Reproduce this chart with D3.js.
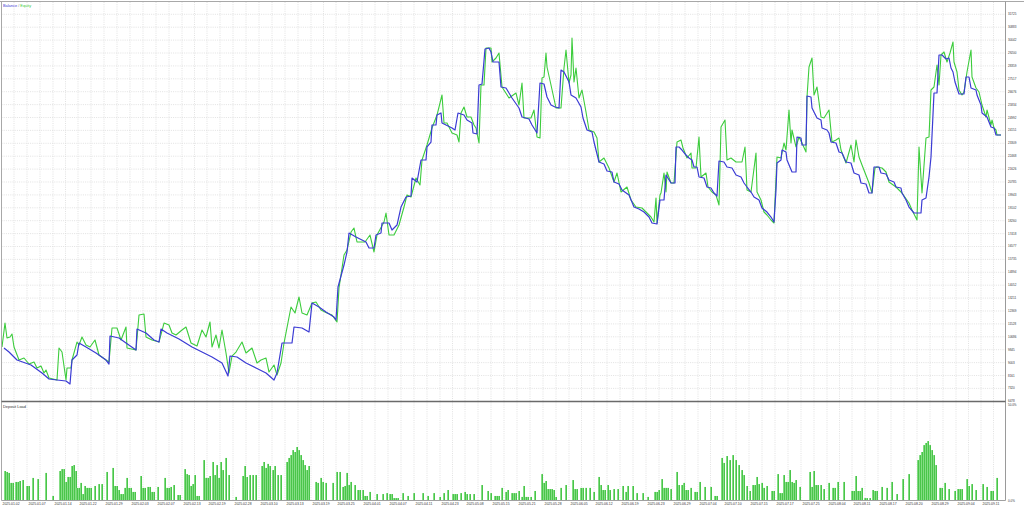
<!DOCTYPE html>
<html><head><meta charset="utf-8">
<script src="https://cdn.jsdelivr.net/npm/d3@7"></script>
<style>html,body{margin:0;padding:0;background:#fff;overflow:hidden} text{font-family:"Liberation Sans","DejaVu Sans",sans-serif}</style>
</head><body>
<svg id="c" width="1024" height="508" xmlns="http://www.w3.org/2000/svg"></svg>
<script>
// ---- data: [deal number, value] ----
const balance = [[4,9954],[9,9693],[17,9171],[31,8845],[42,8323],[49,7932],[57,7867],[66,7802],[70,7606],[72,9171],[77,9497],[79,10280],[86,10019],[96,9628],[106,9171],[109,8910],[110,10737],[119,10606],[126,10280],[136,9824],[137,11194],[146,10933],[154,10476],[159,10345],[161,11194],[167,10933],[179,10541],[192,10019],[202,9693],[212,9367],[222,8975],[228,8128],[230,9432],[237,9367],[246,8975],[256,8649],[266,8323],[274,7867],[277,8323],[282,10280],[292,10280],[294,11325],[302,11259],[309,10998],[312,12886],[319,12629],[326,12303],[334,11977],[336,11781],[338,13934],[344,15369],[347,16218],[349,17457],[356,17196],[366,16870],[369,16478],[374,16478],[376,17327],[381,17457],[382,18110],[389,18110],[392,17653],[397,17979],[401,19153],[406,19806],[411,19871],[412,21045],[417,20784],[421,22220],[426,22220],[427,23068],[431,23394],[432,24503],[436,24503],[437,25155],[441,25286],[442,24634],[452,24307],[455,24177],[458,25286],[464,25155],[467,24829],[472,24634],[473,23981],[477,23916],[479,27113],[482,27178],[485,29461],[489,29527],[491,29266],[493,28613],[499,28613],[501,26982],[506,26917],[512,26265],[519,25612],[522,25025],[529,24895],[532,24503],[537,23981],[540,27243],[544,27178],[547,26330],[551,25808],[555,25677],[559,25612],[561,28091],[564,27961],[569,27308],[571,26460],[576,26265],[581,25677],[583,24960],[587,24177],[592,24047],[594,23394],[599,22089],[604,21959],[607,21502],[612,21437],[614,20784],[619,20654],[622,20262],[629,19936],[634,19153],[639,19023],[644,18827],[649,18501],[652,18110],[657,18044],[660,19610],[664,19610],[666,21241],[671,20719],[675,20719],[676,23068],[679,23068],[682,22872],[686,22546],[689,22350],[692,22220],[694,21763],[697,21763],[699,21111],[704,21045],[707,20458],[711,20393],[714,20067],[717,19871],[719,22154],[724,22089],[727,21763],[732,21698],[736,21241],[741,21111],[744,20719],[747,20458],[751,20132],[754,19806],[759,19610],[762,19088],[767,18827],[771,18501],[774,18175],[776,20262],[777,22024],[781,22220],[782,22872],[786,22742],[787,22220],[792,21437],[796,21437],[797,23720],[801,23655],[802,23198],[806,23198],[807,26395],[811,26330],[812,25612],[817,24960],[821,24829],[822,24307],[827,24177],[829,23981],[831,23394],[836,23329],[839,22742],[842,22676],[846,22089],[851,22024],[854,21372],[859,21241],[861,20719],[866,20654],[869,20067],[872,20067],[874,21763],[879,21763],[881,21372],[886,21306],[889,20915],[894,20784],[896,20458],[901,20393],[902,20067],[906,19610],[909,19153],[914,18762],[921,18762],[922,19610],[926,19740],[929,21111],[931,22415],[934,26590],[937,26590],[939,29070],[942,29070],[946,28809],[949,28874],[951,28222],[953,27961],[955,27308],[959,26525],[964,26525],[966,27635],[969,27635],[971,26917],[976,26786],[977,26460],[981,25808],[982,25286],[987,25025],[991,24373],[994,24307],[996,23851],[1001,23851]];

const equity = [[2,10019],[5,11585],[7,10606],[10,10672],[12,10868],[14,10019],[19,9171],[24,9302],[29,8910],[34,9041],[37,8649],[41,8780],[44,8323],[46,8519],[49,7997],[57,7867],[59,9954],[62,9693],[66,7867],[67,8649],[71,8649],[72,9171],[77,10345],[79,10150],[82,10672],[86,10150],[90,10019],[95,10476],[99,9498],[106,9171],[109,9041],[112,11259],[117,11259],[121,10476],[126,11325],[127,9954],[136,9824],[139,12107],[144,12173],[146,10672],[152,10476],[159,10345],[164,11585],[169,11455],[172,10933],[176,10802],[182,11129],[186,11325],[191,10280],[197,10084],[202,11129],[206,10672],[210,11651],[212,10019],[216,10802],[219,9954],[222,11129],[226,9628],[229,8323],[232,9432],[236,9693],[242,10345],[246,9628],[252,9954],[257,8975],[261,9171],[266,9302],[269,8388],[274,8845],[277,8193],[281,8975],[284,10280],[291,12629],[295,12238],[299,13282],[302,12238],[307,12107],[312,12886],[316,12953],[321,12434],[327,12238],[332,12107],[337,11651],[339,13869],[344,16022],[347,16348],[351,17522],[354,17783],[357,16870],[365,16870],[370,17327],[374,16218],[377,17327],[384,18175],[386,18762],[389,17327],[394,17327],[399,17979],[404,19153],[407,19936],[411,19806],[416,21045],[420,20589],[422,22220],[427,23198],[432,24307],[437,25155],[442,26460],[444,24634],[447,24634],[452,23981],[457,23851],[459,23394],[461,25286],[464,25677],[467,25025],[471,25025],[474,24503],[476,24307],[479,23329],[481,27113],[484,27113],[486,29527],[491,29527],[492,28613],[496,28874],[499,29200],[502,26982],[509,26265],[516,26590],[519,25808],[522,27243],[524,24960],[531,24960],[534,25482],[537,23720],[540,23655],[542,27569],[544,27635],[546,29200],[547,28287],[551,27113],[556,25612],[561,25612],[564,28222],[566,29396],[569,27243],[571,27765],[572,30179],[574,27308],[576,28222],[579,26265],[582,26786],[586,25351],[589,24177],[594,24047],[597,23655],[599,22089],[604,22350],[609,21698],[614,20784],[617,21372],[621,20132],[627,20458],[631,19610],[636,19153],[642,19088],[647,18762],[651,18501],[654,18175],[656,19740],[657,18110],[660,19936],[661,20067],[664,21372],[666,20132],[667,21437],[671,20719],[674,20719],[677,23394],[681,23524],[683,23003],[687,22350],[691,22676],[692,21698],[696,21698],[699,23720],[701,21111],[706,21372],[708,20458],[712,20132],[716,19936],[719,19284],[721,24373],[725,24829],[727,22220],[731,22350],[736,22089],[742,22089],[745,23068],[747,20262],[751,20132],[756,22676],[757,20132],[761,19610],[764,18827],[767,18631],[771,18305],[774,18110],[777,22415],[781,22350],[784,23329],[786,22872],[789,25482],[791,23329],[792,24177],[796,23068],[799,23720],[802,23329],[806,22742],[807,26330],[809,28287],[812,28874],[814,26460],[817,26982],[821,25025],[824,24960],[829,25482],[832,23394],[836,23524],[839,23655],[841,22872],[846,22024],[851,23198],[854,22089],[856,23524],[859,22415],[862,21893],[869,20719],[872,20067],[875,21698],[877,21763],[882,21698],[886,21437],[889,20784],[896,20458],[899,20262],[902,20067],[909,19414],[912,18958],[916,18436],[917,18305],[919,23068],[922,20067],[926,23655],[929,23720],[931,26786],[934,26982],[937,28417],[939,27113],[941,29070],[944,29266],[947,28613],[950,29200],[953,29918],[954,28613],[957,27961],[959,26786],[962,26460],[964,26656],[967,27961],[971,29396],[972,27635],[976,26917],[979,26656],[982,25808],[986,25025],[987,25482],[991,24503],[992,24829],[994,24307],[996,24177],[997,23851],[1001,23851]];

// deposit load, percent
const depositLoad = [[5,15.1],[7,14.6],[9,14.1],[11,8.9],[13,8.9],[16,9.4],[18,9.4],[20,9.9],[23,10.4],[27,7.3],[29,7.3],[33,11.5],[38,10.9],[46,14.1],[53,2.1],[60,15.1],[62,16.1],[64,16.1],[66,9.4],[68,12],[70,12],[72,17.7],[74,18.2],[76,15.1],[77,6.3],[79,6.3],[81,8.9],[83,3.1],[85,7.3],[87,6.3],[89,6.3],[91,6.3],[95,7.3],[99,8.3],[102,8.3],[107,14.6],[113,16.7],[115,7.3],[117,7.3],[119,5.2],[121,3.1],[123,3.1],[125,6.3],[127,11.5],[129,6.3],[131,6.3],[133,4.2],[135,4.2],[141,12.5],[143,6.3],[145,6.3],[148,6.8],[150,6.8],[152,4.2],[154,4.2],[158,6.8],[165,11.5],[167,6.3],[169,6.3],[171,6.8],[174,7.8],[178,2.6],[180,2.6],[185,16.1],[187,13.5],[189,13],[191,7.3],[193,8.3],[195,13],[197,2.1],[199,2.1],[204,20.8],[206,11.5],[208,11.5],[210,12.5],[213,19.8],[215,13],[217,18.2],[219,11.5],[221,19.8],[223,15.6],[226,21.9],[229,13],[236,1.6],[243,12.5],[245,17.7],[247,12],[250,13],[253,13],[256,13],[262,17.7],[264,19.8],[266,16.7],[268,18.8],[270,17.7],[273,15.6],[275,17.7],[278,13],[281,13],[287,19.8],[289,21.9],[291,23.4],[293,26],[295,25],[297,27.6],[299,26],[301,23.4],[303,20.8],[305,18.2],[307,15.6],[309,17.7],[316,9.4],[318,8.9],[321,11.5],[323,9.4],[326,8.9],[333,8.9],[337,14.6],[340,14.6],[343,6.8],[345,7.3],[347,14.1],[349,7.8],[351,9.4],[355,7.8],[358,5.2],[360,5.2],[363,5.2],[365,2.1],[367,2.1],[370,4.2],[377,3.1],[383,3.1],[387,3.6],[390,3.1],[392,3.1],[394,1],[396,1],[398,1],[403,3.6],[408,2.1],[414,3.6],[423,3.6],[428,2.1],[434,3.6],[440,1.6],[444,3.6],[448,5.2],[453,3.1],[455,3.1],[457,3.1],[461,3.6],[465,4.2],[467,3.1],[470,3.1],[474,3.1],[482,7.8],[488,4.7],[491,3.6],[495,2.1],[497,2.1],[499,2.1],[502,6.3],[506,4.2],[508,5.2],[512,3.6],[514,3.6],[516,3.6],[519,4.7],[522,1.6],[524,7.3],[526,1.6],[528,1.6],[531,1.6],[535,4.7],[542,13.5],[544,8.9],[546,9.9],[548,5.7],[550,5.7],[552,5.7],[554,5.2],[556,1.6],[561,6.3],[566,7.8],[573,10.4],[575,5.7],[577,5.7],[581,6.3],[583,6.3],[586,6.3],[590,6.3],[594,4.2],[599,12],[601,7.8],[603,5.2],[605,5.2],[608,7.8],[610,5.2],[614,5.7],[618,5.7],[623,7.3],[626,4.2],[628,7.3],[633,7.3],[637,3.6],[643,3.6],[648,1.6],[655,4.2],[657,4.2],[659,5.2],[662,10.9],[664,6.3],[666,6.3],[668,6.3],[671,5.7],[677,14.6],[679,7.8],[682,7.8],[684,8.9],[686,5.2],[688,5.2],[691,6.3],[695,4.2],[697,4.2],[700,9.4],[705,6.8],[711,6.8],[715,2.1],[717,2.1],[722,21.9],[724,19.3],[727,22.9],[730,20.8],[733,23.4],[736,20.8],[739,18.2],[742,15.6],[744,13],[747,7.3],[750,4.7],[753,7.8],[755,7.8],[757,12],[759,8.3],[762,8.9],[764,6.3],[767,7.3],[772,4.7],[774,4.7],[778,13.5],[780,3.6],[782,3.6],[784,13],[786,9.4],[788,9.4],[790,15.6],[792,9.4],[794,8.9],[796,10.4],[800,6.8],[810,14.6],[812,6.8],[814,15.1],[816,7.8],[818,7.8],[821,7.8],[824,5.7],[829,8.9],[833,6.3],[835,6.3],[838,9.4],[844,9.4],[852,4.7],[854,4.7],[856,12.5],[858,4.7],[860,4.7],[862,6.3],[865,1],[867,1],[870,1],[873,5.2],[875,4.7],[877,4.7],[882,6.8],[887,6.3],[892,9.4],[897,3.1],[903,10.9],[909,13.5],[918,20.8],[920,23.4],[922,25],[924,28.6],[926,29.7],[928,30.7],[930,28.6],[932,26],[934,23.4],[936,18.2],[940,6.3],[942,6.3],[945,8.9],[949,5.7],[955,4.7],[958,5.7],[960,5.7],[962,5.7],[967,10.9],[969,7.3],[972,8.3],[976,5.2],[983,8.3],[987,6.8],[991,4.7],[993,4.7],[997,11.5]];

const yTickValues = [31725,30883,30042,29200,28359,27517,26676,25834,24992,24151,23309,22468,21626,20785,19943,19102,18260,17418,16577,15735,14894,14052,13211,12369,11528,10686,9845,9003,8161,7320,6478];
const loadTickValues = [50, 0];
const dateLabels = ["2025.01.02","2025.01.07","2025.01.14","2025.01.22","2025.01.29","2025.02.03","2025.02.07","2025.02.13","2025.02.19","2025.02.28","2025.03.10","2025.03.13","2025.03.19","2025.03.25","2025.04.01","2025.04.07","2025.04.11","2025.04.23","2025.05.08","2025.05.15","2025.05.21","2025.05.28","2025.06.05","2025.06.12","2025.06.19","2025.06.23","2025.06.29","2025.07.04","2025.07.10","2025.07.15","2025.07.17","2025.07.25","2025.08.04","2025.08.11","2025.08.17","2025.08.20","2025.08.29","2025.09.04","2025.09.11"];
const dateDeals = [1,27,53,78,104,130,156,182,207,233,259,285,311,336,362,388,414,440,465,491,517,543,569,594,620,646,672,698,723,749,775,801,827,852,878,904,930,956,981];

// ---- layout ----
const svg = d3.select("#c");
const plotL = 1.5, plotR = 1005.5, mainT = 2, mainB = 401.5, loadB = 500.5;
const x = d3.scaleLinear().domain([0, 1004]).range([0, 1004]);
const y = d3.scaleLinear().domain([6478, 31725]).range([401.3, 14.3]);
const yl = d3.scaleLinear().domain([0, 50]).range([500, 404]);

svg.append("rect").attr("width",1024).attr("height",508).attr("fill","#fff");

const defs = svg.append("defs");
const grad = defs.append("linearGradient").attr("id","barg").attr("x1","0").attr("x2","1").attr("y1","0").attr("y2","0");
grad.append("stop").attr("offset","0%").attr("stop-color","#90e490");
grad.append("stop").attr("offset","100%").attr("stop-color","#1cb41c");
defs.append("clipPath").attr("id","mainclip").append("rect")
  .attr("x",plotL).attr("y",mainT).attr("width",plotR-plotL).attr("height",mainB-mainT);

// grid lines
const grid = svg.append("g").attr("stroke","#dadada").attr("stroke-width",0.8).attr("stroke-dasharray","1,1.2");
const vGrid = [];
dateDeals.forEach((d,i)=>{
  if (i>0) vGrid.push(x(d));
  const nxt = i < dateDeals.length-1 ? dateDeals[i+1] : d + (d - dateDeals[i-1]);
  vGrid.push((x(d)+x(nxt))/2);
});
vGrid.forEach(gx=>{
  grid.append("line").attr("x1",gx).attr("x2",gx).attr("y1",mainT).attr("y2",loadB);
});
yTickValues.slice(0,-1).forEach(v=>{
  grid.append("line").attr("x1",plotL).attr("x2",plotR).attr("y1",y(v)).attr("y2",y(v));
});

// deposit load bars
svg.append("g").selectAll("rect").data(depositLoad).join("rect")
  .attr("x",d=>x(d[0])-0.9).attr("width",1.8)
  .attr("y",d=>yl(d[1])).attr("height",d=>yl(0)-yl(d[1]))
  .attr("fill","url(#barg)");

// lines
const line = d3.line().x(d=>x(d[0])).y(d=>y(d[1]));
const lg = svg.append("g").attr("clip-path","url(#mainclip)");
lg.append("path").datum(equity).attr("d",line).attr("fill","none")
  .attr("stroke","#3ccc3c").attr("stroke-width",1.1).attr("stroke-linejoin","round");
lg.append("path").datum(balance).attr("d",line).attr("fill","none")
  .attr("stroke","#3b3bd4").attr("stroke-width",1.2).attr("stroke-linejoin","round");

// frame
const fr = svg.append("g").attr("fill","none");
fr.append("line").attr("x1",0).attr("x2",1024).attr("y1",1.5).attr("y2",1.5).attr("stroke","#a8a8a8").attr("stroke-width",1);
fr.append("line").attr("x1",plotL).attr("x2",plotL).attr("y1",1.5).attr("y2",loadB).attr("stroke","#a8a8a8").attr("stroke-width",1);
fr.append("line").attr("x1",plotR).attr("x2",plotR).attr("y1",1.5).attr("y2",loadB).attr("stroke","#9a9a9a").attr("stroke-width",1);
fr.append("line").attr("x1",plotL).attr("x2",plotR).attr("y1",mainB).attr("y2",mainB).attr("stroke","#6a6a6a").attr("stroke-width",1.6);
fr.append("line").attr("x1",plotL).attr("x2",plotR).attr("y1",loadB).attr("y2",loadB).attr("stroke","#a0a0a0").attr("stroke-width",1);

// right axis labels
const ax = svg.append("g").attr("fill","#333");
ax.selectAll("text.yt").data(yTickValues).join("text").attr("class","yt")
  .attr("x",1008).attr("y",v=>y(v)+1).attr("font-size","3px").text(v=>v);
ax.selectAll("text.lt").data(loadTickValues).join("text").attr("class","lt")
  .attr("x",1008).attr("y",v=>yl(v)+ (v===0?2:1.5)).attr("font-size","3px").text(v=>v.toFixed(1)+"%");

// date labels
ax.selectAll("text.xt").data(dateLabels).join("text").attr("class","xt")
  .attr("x",(d,i)=>x(dateDeals[i])+1.6).attr("y",505).attr("font-size","3.4px").text(d=>d);

// titles
const t1 = svg.append("text").attr("x",3).attr("y",7.2).attr("font-size","3.9px");
t1.append("tspan").attr("fill","#3b3bd4").text("Balance");
t1.append("tspan").attr("fill","#777").text(" / ");
t1.append("tspan").attr("fill","#3ccc3c").text("Equity");
svg.append("text").attr("x",3).attr("y",407.5).attr("font-size","3.9px").attr("fill","#333").text("Deposit Load");
</script>
</body></html>
